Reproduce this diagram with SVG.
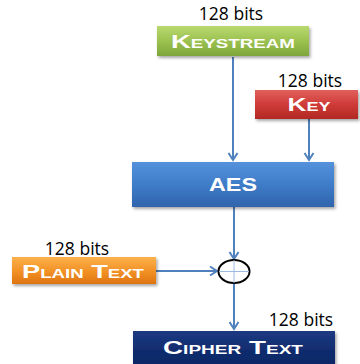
<svg xmlns="http://www.w3.org/2000/svg" width="360" height="364" viewBox="0 0 360 364">
<defs>
<linearGradient id="gGreen" x1="0" y1="0" x2="0" y2="1"><stop offset="0" stop-color="#b9d870"/><stop offset="0.5" stop-color="#9cc250"/><stop offset="1" stop-color="#7da63a"/></linearGradient>
<linearGradient id="gRed" x1="0" y1="0" x2="0" y2="1"><stop offset="0" stop-color="#e2605c"/><stop offset="0.5" stop-color="#cf3b37"/><stop offset="1" stop-color="#b12824"/></linearGradient>
<linearGradient id="gBlue" x1="0" y1="0" x2="0" y2="1"><stop offset="0" stop-color="#5592dc"/><stop offset="0.5" stop-color="#3f7cc8"/><stop offset="1" stop-color="#2f64ac"/></linearGradient>
<linearGradient id="gOrange" x1="0" y1="0" x2="0" y2="1"><stop offset="0" stop-color="#fbb24c"/><stop offset="0.5" stop-color="#f39328"/><stop offset="1" stop-color="#de7410"/></linearGradient>
<linearGradient id="gNavy" x1="0" y1="0" x2="0" y2="1"><stop offset="0" stop-color="#1d3a82"/><stop offset="0.5" stop-color="#112c6e"/><stop offset="1" stop-color="#0c2462"/></linearGradient>
<filter id="sh" x="-10%" y="-20%" width="125%" height="160%"><feDropShadow dx="1.5" dy="2" stdDeviation="1.5" flood-color="#000" flood-opacity="0.35"/></filter>
<marker id="arr" markerWidth="12" markerHeight="12" refX="9" refY="6" orient="auto" markerUnits="userSpaceOnUse">
<polyline points="2,1.5 9,6 2,10.5" fill="none" stroke="#4f81bd" stroke-width="2"/>
</marker>
<style>
.lbl{font-family:"Open Sans","Liberation Sans",sans-serif;font-size:17.5px;fill:#000;text-anchor:middle}
.nt{font-family:"Liberation Sans","DejaVu Sans",sans-serif;font-weight:bold;fill:#fff;text-anchor:middle;font-variant:small-caps;font-size:19px}
.con{stroke:#4f81bd;stroke-width:2;fill:none}
.box{filter:url(#sh)}
</style>
</defs>
<g id="connectors">
<line class="con" x1="233" y1="57" x2="233" y2="160" marker-end="url(#arr)"/>
<line class="con" x1="309" y1="119" x2="309" y2="160" marker-end="url(#arr)"/>
<line class="con" x1="234" y1="207" x2="234" y2="259" marker-end="url(#arr)"/>
<line class="con" x1="156" y1="271" x2="217" y2="271" marker-end="url(#arr)"/>
<line class="con" x1="234" y1="283" x2="234" y2="329" marker-end="url(#arr)"/>
</g>
<g id="keystream">
<text class="lbl" x="231" y="20">128 bits</text>
<rect class="box" x="157" y="26" width="152" height="30" fill="url(#gGreen)"/>
<text class="nt" x="233" y="48" textLength="124" lengthAdjust="spacingAndGlyphs">Keystream</text>
</g>
<g id="key">
<text class="lbl" x="310" y="87">128 bits</text>
<rect class="box" x="255" y="90" width="103" height="29" fill="url(#gRed)"/>
<text class="nt" x="309" y="111" textLength="43" lengthAdjust="spacingAndGlyphs">Key</text>
</g>
<g id="aes">
<rect class="box" x="132" y="162" width="202" height="45" fill="url(#gBlue)"/>
<text class="nt" x="233" y="191" textLength="48" lengthAdjust="spacingAndGlyphs">AES</text>
</g>
<g id="plaintext">
<text class="lbl" x="77" y="255">128 bits</text>
<rect class="box" x="12" y="257" width="144" height="27" fill="url(#gOrange)"/>
<text class="nt" x="83" y="278" textLength="122" lengthAdjust="spacingAndGlyphs">Plain Text</text>
</g>
<g id="xor">
<ellipse cx="234" cy="271.5" rx="15.5" ry="11.5" fill="#fff" stroke="#000" stroke-width="2"/>
<line x1="219" y1="271.5" x2="249" y2="271.5" stroke="#9dbbe0" stroke-width="1"/>
<line x1="234" y1="260" x2="234" y2="283" stroke="#9dbbe0" stroke-width="1"/>
</g>
<g id="ciphertext">
<text class="lbl" x="301" y="326">128 bits</text>
<rect class="box" x="133" y="331" width="202" height="40" fill="url(#gNavy)"/>
<text class="nt" x="233" y="354" textLength="140" lengthAdjust="spacingAndGlyphs">Cipher Text</text>
</g>
</svg>
